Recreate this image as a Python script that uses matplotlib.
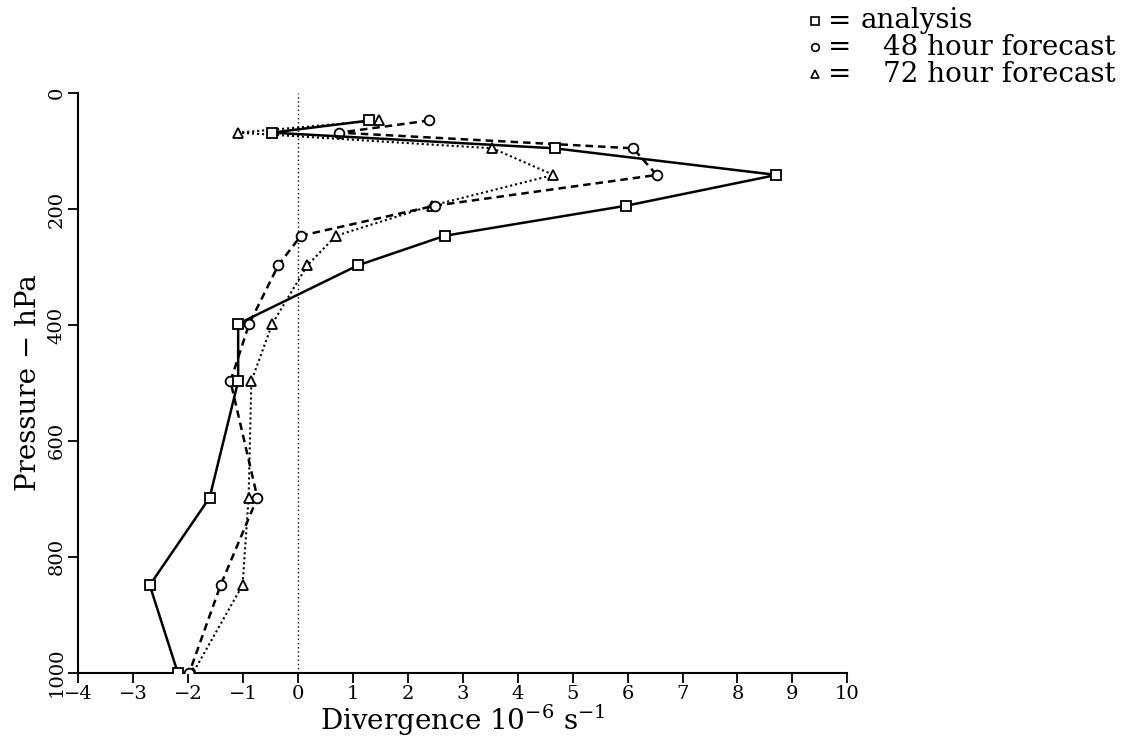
import matplotlib
matplotlib.use("Agg")
import matplotlib.pyplot as plt
from matplotlib.lines import Line2D

# pressure levels (hPa)
pressure = [47, 68, 95, 141, 194, 246, 297, 398, 497, 698, 849, 1000]

# divergence, 10^-6 s^-1
analysis = [1.30, -0.48, 4.67, 8.71, 5.98, 2.67, 1.09, -1.09, -1.09, -1.61, -2.70, -2.19]
fc48 = [2.39, 0.75, 6.10, 6.53, 2.49, 0.05, -0.36, -0.89, -1.23, -0.74, -1.41, -1.98]
fc72 = [1.47, -1.09, 3.54, 4.65, 2.43, 0.69, 0.17, -0.47, -0.85, -0.90, -1.01, -1.91]

x_ticks = list(range(-4, 11))
y_ticks = [0, 200, 400, 600, 800, 1000]

plt.rcParams['font.family'] = ['DejaVu Serif']
plt.rcParams['mathtext.fontset'] = 'dejavuserif'

fig = plt.figure(figsize=(11.32, 7.46), dpi=100)
ax = fig.add_axes([0.0692, 0.0983, 0.6793, 0.7767])

ax.axvline(0, color='black', lw=1.0, linestyle=(0, (1, 2)), zorder=1)

mk = dict(markerfacecolor='white', markeredgecolor='black', markeredgewidth=1.3)
ax.plot(analysis, pressure, color='black', lw=1.8, linestyle='-',
        marker='s', markersize=7, zorder=4, **mk)
ax.plot(fc48, pressure, color='black', lw=1.8, linestyle=(0, (3, 2)),
        marker='o', markersize=7, zorder=3, **mk)
ax.plot(fc72, pressure, color='black', lw=1.5, linestyle=(0, (1, 1.4)),
        marker='^', markersize=7, zorder=2, **mk)

ax.set_xlim(-4, 10)
ax.set_ylim(1000, 0)
ax.set_xticks(x_ticks)
ax.set_xticklabels([str(v).replace('-', '\u2212') for v in x_ticks])
ax.set_yticks(y_ticks)
ax.set_yticklabels([str(v) for v in y_ticks], rotation=90, va='center')

for side in ['top', 'right']:
    ax.spines[side].set_visible(False)
for side in ['left', 'bottom']:
    ax.spines[side].set_linewidth(1.5)
ax.tick_params(direction='out', length=7, width=1.3, labelsize=14, pad=2)

ax.set_xlabel('Divergence $10^{-6}$ s$^{-1}$', fontsize=20, labelpad=0)
ax.set_ylabel('Pressure \u2212 hPa', fontsize=20, labelpad=4)

# key in the upper right corner
key_markers = ['s', 'o', '^']
key_labels = ['analysis', '48 hour forecast', '72 hour forecast']
key_text_x = [0.7606, 0.780, 0.780]
key_y = [0.9725, 0.937, 0.901]
for m, lab, tx, yy in zip(key_markers, key_labels, key_text_x, key_y):
    fig.add_artist(Line2D([0.720], [yy], marker=m, markersize=5.5, color='black',
                          markerfacecolor='white', markeredgewidth=1.2,
                          transform=fig.transFigure))
    fig.text(0.742, yy - 0.011, '=', fontsize=20, ha='center', va='baseline')
    fig.text(tx, yy - 0.0105, lab, fontsize=20, ha='left', va='baseline')

fig.savefig('out.png', dpi=100)
